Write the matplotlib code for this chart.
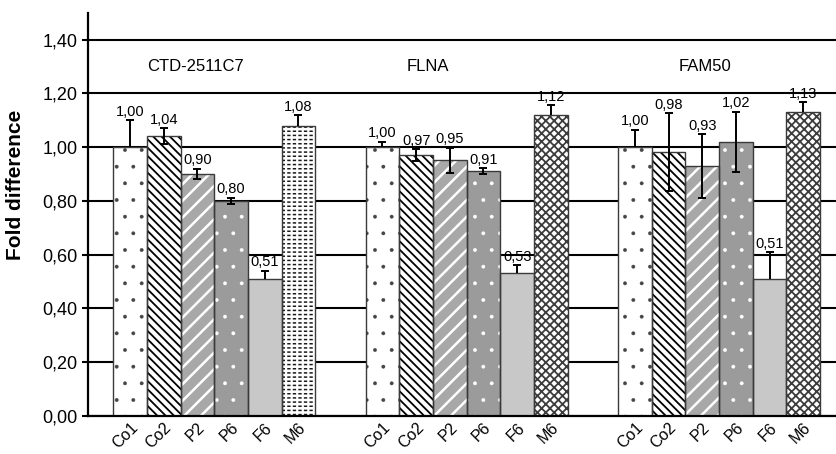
import matplotlib
matplotlib.use("Agg")
import matplotlib.pyplot as plt
import numpy as np
from matplotlib.ticker import FuncFormatter

genes = ["CTD-2511C7", "FLNA", "FAM50"]
samples = ["Co1", "Co2", "P2", "P6", "F6", "M6"]

ctd_values = [1.00, 1.04, 0.90, 0.80, 0.51, 1.08]
flna_values = [1.00, 0.97, 0.95, 0.91, 0.53, 1.12]
fam50_values = [1.00, 0.98, 0.93, 1.02, 0.51, 1.13]

ctd_err_up = [0.10, 0.03, 0.02, 0.012, 0.03, 0.04]
ctd_err_lo = [0.0, 0.03, 0.02, 0.012, 0.0, 0.0]
flna_err_up = [0.02, 0.023, 0.048, 0.012, 0.03, 0.035]
flna_err_lo = [0.0, 0.023, 0.048, 0.012, 0.0, 0.0]
fam50_err_up = [0.065, 0.145, 0.118, 0.112, 0.10, 0.037]
fam50_err_lo = [0.0, 0.145, 0.118, 0.112, 0.0, 0.0]

values = [ctd_values, flna_values, fam50_values]
err_up = [ctd_err_up, flna_err_up, fam50_err_up]
err_lo = [ctd_err_lo, flna_err_lo, fam50_err_lo]

# fill styles: (face, hatch, hatch colour, hatch linewidth, overlay hatch)
styles = {
    "Co1": ("white", ".", "#444444", 0.3, None),
    "Co2": ("white", "\\\\\\\\", "black", 1.3, None),
    "P2": ("#a8a8a8", "//", "white", 1.8, None),
    "P6": ("#9b9b9b", ".", "white", 0.3, None),
    "F6": ("#c8c8c8", None, "#c8c8c8", 1.0, None),
    "M6": ("white", "xxxx", "#3c3c3c", 1.3, None),
}
# the first gene's M6 bar uses a dashed texture
m6_dashed = ("white", "----", "#1a1a1a", 1.1, ("|||", "white", 1.6))

title_shift = [-0.075, -0.154, -0.055]


def comma(v, pos=None):
    return f"{v:.2f}".replace(".", ",")


def hatched_bar(ax, xpos, h, width, style):
    face, hatch, hcolor, hlw, overlay = style
    with plt.rc_context({"hatch.linewidth": hlw}):
        bars = ax.bar(xpos, h, width, color=face, edgecolor=hcolor,
                      hatch=hatch, linewidth=0, zorder=2)
    for b in bars:
        if hasattr(b, "set_hatch_linewidth"):
            b.set_hatch_linewidth(hlw)
    if overlay:
        ohatch, ocolor, olw = overlay
        with plt.rc_context({"hatch.linewidth": olw}):
            obars = ax.bar(xpos, h, width, fill=False, edgecolor=ocolor,
                           hatch=ohatch, linewidth=0, zorder=2.1)
        for b in obars:
            if hasattr(b, "set_hatch_linewidth"):
                b.set_hatch_linewidth(olw)
    ax.bar(xpos, h, width, fill=False, edgecolor="#3a3a3a",
           linewidth=1.0, zorder=3)


plt.rcParams["font.family"] = ["Liberation Sans", "DejaVu Sans"]

fig = plt.figure(figsize=(8.37, 4.54), dpi=100)
ax = fig.add_axes([0.1051, 0.0843, 1 - 0.1051, 0.972 - 0.0843])

n = len(samples)
width = 0.8 / n
group_x = np.arange(len(genes))
tick_pos = []
tick_labels = []

for gi, gene in enumerate(genes):
    pos = group_x[gi] + (np.arange(n) - (n - 1) / 2) * width
    for j, sample in enumerate(samples):
        style = styles[sample]
        if gi == 0 and sample == "M6":
            style = m6_dashed
        hatched_bar(ax, pos[j], values[gi][j], width, style)

    lo = np.array(err_lo[gi])
    up = np.array(err_up[gi])
    _, caps, _ = ax.errorbar(pos, values[gi], yerr=[lo, up], fmt="none",
                             ecolor="black", elinewidth=1.4, capsize=3,
                             capthick=1.4, zorder=4)
    # no lower cap where there is only an upper error
    low_cap = caps[0]
    ydata = np.array(low_cap.get_ydata(), dtype=float)
    ydata[lo == 0] = np.nan
    low_cap.set_ydata(ydata)

    for j in range(n):
        ax.text(pos[j], values[gi][j] + up[j] + 0.016, comma(values[gi][j]),
                ha="center", va="baseline", fontsize=10.5, zorder=5)

    ax.text(group_x[gi] + title_shift[gi], 1.30, gene, ha="center",
            va="center", fontsize=12)

    tick_pos.extend(pos)
    tick_labels.extend(samples)

ax.set_xlim(-0.5, 2.467)
ax.set_ylim(0, 1.5)
ax.set_yticks(np.arange(0, 1.41, 0.2))
ax.yaxis.set_major_formatter(FuncFormatter(comma))
ax.set_xticks(tick_pos)
ax.set_xticklabels(tick_labels, rotation=45, ha="right", va="top",
                   rotation_mode="anchor", fontsize=11.5)
ax.tick_params(axis="x", length=0, pad=3)
ax.tick_params(axis="y", direction="out", length=4.5, width=1.5,
               labelsize=13, pad=3)

ax.set_axisbelow(True)
ax.yaxis.grid(True, color="black", linewidth=1.5, zorder=0)
for side in ("top", "right"):
    ax.spines[side].set_visible(False)
for side in ("left", "bottom"):
    ax.spines[side].set_linewidth(1.6)
    ax.spines[side].set_zorder(6)

ax.set_ylabel("Fold difference", fontsize=15, fontweight="bold")
ax.yaxis.set_label_coords(-0.084, 0.572)

fig.savefig("out.png", dpi=100)
